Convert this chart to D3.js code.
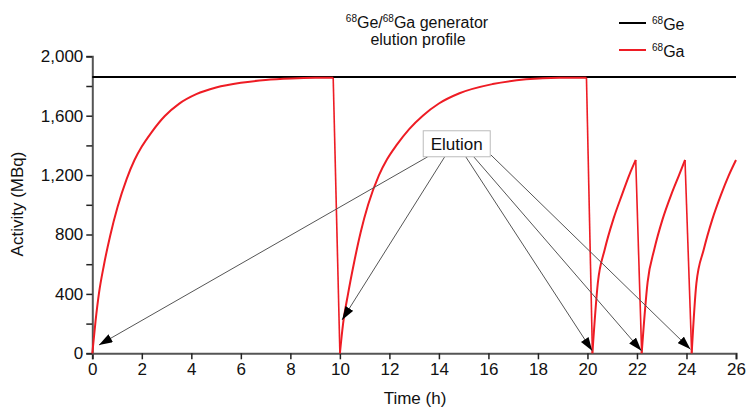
<!DOCTYPE html>
<html>
<head>
<meta charset="utf-8">
<script src="https://cdn.jsdelivr.net/npm/d3@7/dist/d3.min.js"></script>
<style>
  body { margin: 0; background: #fff; }
  svg text { font-family: "Liberation Sans", Arial, Helvetica, sans-serif; fill: #111; }
</style>
</head>
<body>
<svg id="chart" width="750" height="416"></svg>
<script>
// 68Ge parent activity (flat)
const geTime = [0, 26];
const geActivity = [1860, 1860];

// 68Ga activity (h, MBq)
const gaTime = [
  0, 0.13, 0.27, 0.47, 0.72, 1.02, 1.39, 1.7, 2.0, 2.4, 2.93, 3.5, 4.2, 5.0, 6.0, 7.0, 8.04, 9.0, 9.73,
  10.0, 10.13, 10.33, 10.56, 10.84, 11.14, 11.58, 11.9, 12.28, 12.8, 13.35, 14.0, 14.83, 16.17, 17.52, 18.86, 19.96,
  20.2, 20.42, 20.7, 21.05, 21.4, 21.7, 21.95,
  22.19, 22.43, 22.7, 23.03, 23.4, 23.7, 23.94,
  24.21, 24.4, 24.7, 25.04, 25.4, 25.7, 26
];
const gaActivity = [
  0, 215, 405, 595, 790, 985, 1175, 1300, 1392, 1490, 1598, 1680, 1745, 1790, 1822, 1840, 1850, 1855, 1856,
  0, 200, 400, 600, 815, 1000, 1200, 1305, 1400, 1510, 1600, 1682, 1751, 1813, 1845, 1856, 1856,
  0, 475, 700, 905, 1070, 1205, 1302,
  0, 480, 700, 900, 1075, 1200, 1302,
  0, 471, 700, 900, 1070, 1195, 1302
];

// where each "Elution" arrow points (h, MBq)
const elutionTime = [0.27, 10.09, 20.19, 22.18, 24.16];
const elutionActivity = [56, 225, 17, 17, 27];

const xTicks = d3.range(0, 27, 2);
const yTicks = d3.range(0, 2001, 200);

const svg = d3.select("#chart");
const margin = { left: 92.3, right: 14, top: 56.3, bottom: 62.7 };
const W = 750, H = 416;

const x = d3.scaleLinear().domain([0, 26]).range([margin.left, W - margin.right]);
const y = d3.scaleLinear().domain([0, 2000]).range([H - margin.bottom, margin.top]);

// axes
const xAxis = svg.append("g")
  .attr("transform", `translate(0,${y(0)})`)
  .call(d3.axisBottom(x).tickValues(xTicks).tickSize(6).tickPadding(4).tickFormat(d3.format("d")));
const yAxis = svg.append("g")
  .attr("transform", `translate(${x(0)},0)`)
  .call(d3.axisLeft(y).tickValues(yTicks).tickSize(6).tickPadding(3)
    .tickFormat(d => d % 400 === 0 ? d3.format(",")(d) : ""));

[xAxis, yAxis].forEach(g => {
  g.select(".domain").attr("stroke", "#555").attr("stroke-width", 2);
  g.selectAll(".tick line").attr("stroke", "#222").attr("stroke-width", 1.5);
  g.selectAll(".tick text").style("font-size", "17px").attr("fill", "#111");
});

svg.append("text")
  .attr("x", 415).attr("y", 404)
  .attr("text-anchor", "middle")
  .style("font-size", "17px")
  .text("Time (h)");

svg.append("text")
  .attr("transform", "translate(23,204) rotate(-90)")
  .attr("text-anchor", "middle")
  .style("font-size", "17px")
  .text("Activity (MBq)");

// Ge line
const line = d3.line().x(d => x(d[0])).y(d => y(d[1]));
svg.append("path")
  .datum(d3.zip(geTime, geActivity))
  .attr("fill", "none")
  .attr("stroke", "#000")
  .attr("stroke-width", 2)
  .attr("d", line);

// Ga: smooth ingrowth runs, straight drops at each elution
const ga = d3.zip(gaTime, gaActivity);
const runs = [];
const drops = [];
let cur = [ga[0]];
for (let i = 1; i < ga.length; i++) {
  if (ga[i][1] < ga[i - 1][1]) {
    runs.push(cur);
    drops.push([ga[i - 1], ga[i]]);
    cur = [ga[i]];
  } else {
    cur.push(ga[i]);
  }
}
runs.push(cur);

const smooth = d3.line().x(d => x(d[0])).y(d => y(d[1])).curve(d3.curveMonotoneX);
const red = "#ee1c24";
svg.append("g").selectAll("path.run")
  .data(runs).enter().append("path")
  .attr("class", "run")
  .attr("fill", "none").attr("stroke", red).attr("stroke-width", 2)
  .attr("d", smooth);
svg.append("g").selectAll("path.drop")
  .data(drops).enter().append("path")
  .attr("class", "drop")
  .attr("fill", "none").attr("stroke", red).attr("stroke-width", 1.6)
  .attr("d", line);

// arrows
svg.append("defs").append("marker")
  .attr("id", "head")
  .attr("markerUnits", "userSpaceOnUse")
  .attr("viewBox", "0 0 12 8")
  .attr("refX", 12).attr("refY", 4)
  .attr("markerWidth", 14).attr("markerHeight", 9)
  .attr("orient", "auto")
  .append("path").attr("d", "M0,0L12,4L0,8Z").attr("fill", "#000");

const boxCx = x(14.72), boxCy = y(1411);
const startDx = [-29, -12, 9, 17, 34];
svg.append("g").selectAll("line")
  .data(d3.zip(elutionTime, elutionActivity)).enter().append("line")
  .attr("x1", (d, i) => boxCx + startDx[i])
  .attr("y1", (d, i) => boxCy + (i === 4 ? 11 : 13))
  .attr("x2", d => x(d[0]))
  .attr("y2", d => y(d[1]))
  .attr("stroke", "#555")
  .attr("stroke-width", 1)
  .attr("marker-end", "url(#head)");

svg.append("rect")
  .attr("x", boxCx - 33.5).attr("y", boxCy - 13)
  .attr("width", 67).attr("height", 26)
  .attr("fill", "#fff").attr("stroke", "#bbb").attr("stroke-width", 1);
svg.append("text")
  .attr("x", boxCx).attr("y", boxCy + 6)
  .attr("text-anchor", "middle")
  .style("font-size", "17px")
  .text("Elution");

// title
const title = svg.append("text").attr("text-anchor", "middle").style("font-size", "16px");
const t1 = title.append("tspan").attr("x", 417).attr("y", 28);
t1.append("tspan").attr("dy", -6).style("font-size", "10px").text("68");
t1.append("tspan").attr("dy", 6).text("Ge/");
t1.append("tspan").attr("dy", -6).style("font-size", "10px").text("68");
t1.append("tspan").attr("dy", 6).text("Ga generator");
title.append("tspan").attr("x", 418).attr("y", 45).text("elution profile");

// legend
const legend = [["Ge", "#000", 23], ["Ga", red, 50]];
legend.forEach(([lab, col, ly]) => {
  svg.append("line")
    .attr("x1", 619).attr("x2", 646).attr("y1", ly).attr("y2", ly)
    .attr("stroke", col).attr("stroke-width", 2);
  const t = svg.append("text").attr("x", 652).attr("y", ly + 7).style("font-size", "16px");
  t.append("tspan").attr("dy", -6).style("font-size", "10px").text("68");
  t.append("tspan").attr("dy", 6).text(lab);
});
</script>
</body>
</html>
